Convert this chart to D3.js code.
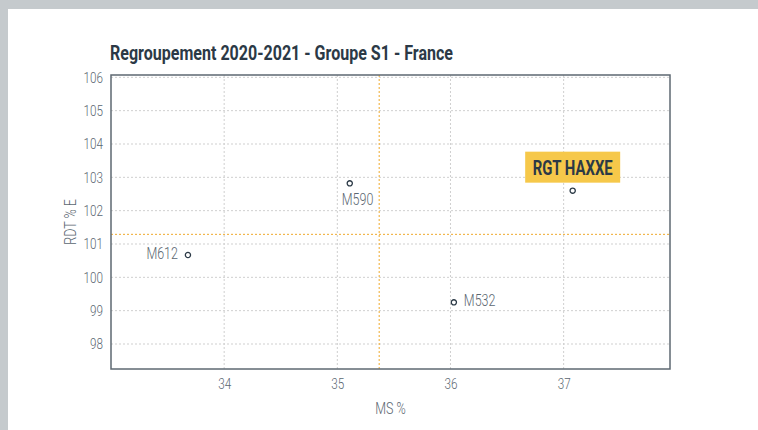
<!DOCTYPE html>
<html>
<head>
<meta charset="utf-8">
<script src="https://cdn.jsdelivr.net/npm/d3@7"></script>
<style>
  html, body { margin: 0; padding: 0; background: #c5cacd; }
  #chart { width: 758px; height: 430px; }
</style>
</head>
<body>
<div id="chart"></div>
<script>
// Scatter - Regroupement 2020-2021 - Groupe S1 - France
const names = ['M612', 'M590', 'M532', 'RGT HAXXE'];
const msValues = [33.68, 35.11, 36.03, 37.08];
const rdtValues = [100.67, 102.82, 99.25, 102.60];
const labelSides = ['left', 'below', 'right', 'above'];
const xTicks = [34, 35, 36, 37];
const yTicks = [98, 99, 100, 101, 102, 103, 104, 105, 106];
const xDomain = [33, 37.94];
const yDomain = [97.25, 106.07];
const refMs = 35.37;
const refRdt = 101.29;

const width = 758, height = 430;
const margin = { top: 75, right: 88, bottom: 61, left: 111 };
const innerW = width - margin.left - margin.right;
const innerH = height - margin.top - margin.bottom;

const textGray = '#5b6771';
const dark = '#2b3946';
const light = "Roboto, sans-serif";

// squeeze Roboto into the narrow look of the original font
function condense(sel, factor) {
    sel.each(function () {
        const w = this.getComputedTextLength();
        d3.select(this)
            .attr('textLength', w * factor)
            .attr('lengthAdjust', 'spacingAndGlyphs');
    });
}

const svg = d3.select('#chart').append('svg')
    .attr('width', width)
    .attr('height', height)
    .style('display', 'block');

// panel
svg.append('rect')
    .attr('x', 8).attr('y', 9)
    .attr('width', width - 8).attr('height', height - 9)
    .attr('fill', '#ffffff');

svg.append('text')
    .attr('x', 110)
    .attr('y', 60)
    .attr('fill', dark)
    .attr('font-family', light)
    .attr('font-weight', 700)
    .attr('font-size', '21px')
    .attr('textLength', 343)
    .attr('lengthAdjust', 'spacingAndGlyphs')
    .text('Regroupement 2020-2021 - Groupe S1 - France');

const g = svg.append('g')
    .attr('transform', `translate(${margin.left},${margin.top})`);

const x = d3.scaleLinear().domain(xDomain).range([0, innerW]);
const y = d3.scaleLinear().domain(yDomain).range([innerH, 0]);

// grid
g.append('g').selectAll('line')
    .data(xTicks)
    .join('line')
    .attr('x1', d => x(d)).attr('x2', d => x(d))
    .attr('y1', 0).attr('y2', innerH)
    .attr('stroke', '#cfcfcf')
    .attr('stroke-dasharray', '2,2');

g.append('g').selectAll('line')
    .data(yTicks.filter(d => y(d) > 2))
    .join('line')
    .attr('x1', 0).attr('x2', innerW)
    .attr('y1', d => y(d)).attr('y2', d => y(d))
    .attr('stroke', '#cfcfcf')
    .attr('stroke-dasharray', '2,2');

// reference lines
g.append('line')
    .attr('x1', x(refMs)).attr('x2', x(refMs))
    .attr('y1', 0).attr('y2', innerH)
    .attr('stroke', '#efa92c')
    .attr('stroke-dasharray', '2,2');
g.append('line')
    .attr('x1', 0).attr('x2', innerW)
    .attr('y1', y(refRdt)).attr('y2', y(refRdt))
    .attr('stroke', '#efa92c')
    .attr('stroke-dasharray', '2,2');

// axes
const xAxis = g.append('g')
    .attr('transform', `translate(0,${innerH})`)
    .call(d3.axisBottom(x).tickValues(xTicks).tickFormat(d3.format('d')).tickSize(0).tickPadding(9));
const yAxis = g.append('g')
    .call(d3.axisLeft(y).tickValues(yTicks).tickFormat(d3.format('d')).tickSize(0).tickPadding(8));

[xAxis, yAxis].forEach(a => {
    a.select('.domain').remove();
    a.selectAll('text')
        .attr('fill', textGray)
        .attr('font-family', light)
        .attr('font-weight', 300)
        .attr('font-size', '15px')
        .call(condense, 0.78);
});

// frame
g.append('rect')
    .attr('width', innerW).attr('height', innerH)
    .attr('fill', 'none')
    .attr('stroke', '#5e6872')
    .attr('stroke-width', 1.5);

svg.append('text')
    .attr('x', margin.left + innerW / 2)
    .attr('y', 414)
    .attr('text-anchor', 'middle')
    .attr('fill', textGray)
    .attr('font-family', light)
    .attr('font-weight', 300)
    .attr('font-size', '16px')
    .text('MS %')
    .call(condense, 0.78);

svg.append('text')
    .attr('transform', `translate(76,${margin.top + innerH / 2}) rotate(-90)`)
    .attr('text-anchor', 'middle')
    .attr('fill', textGray)
    .attr('font-family', light)
    .attr('font-weight', 300)
    .attr('font-size', '16px')
    .text('RDT % E')
    .call(condense, 0.78);

// points
const points = names.map((n, i) => ({ name: n, ms: msValues[i], rdt: rdtValues[i], side: labelSides[i] }));

const pg = g.selectAll('.pt')
    .data(points)
    .join('g')
    .attr('class', 'pt')
    .attr('transform', d => `translate(${x(d.ms)},${y(d.rdt)})`);

pg.append('circle')
    .attr('r', 2.6)
    .attr('fill', '#fff')
    .attr('stroke', dark)
    .attr('stroke-width', 1.3);

pg.filter(d => d.side !== 'above').append('text')
    .attr('fill', textGray)
    .attr('font-family', light)
    .attr('font-weight', 300)
    .attr('font-size', '16px')
    .attr('text-anchor', d => d.side === 'left' ? 'end' : 'start')
    .attr('x', d => d.side === 'left' ? -10 : d.side === 'right' ? 10 : -8)
    .attr('y', d => d.side === 'below' ? 22 : 4)
    .text(d => d.name)
    .call(condense, 0.78);

const hl = pg.filter(d => d.side === 'above');
hl.append('rect')
    .attr('x', -47.5).attr('y', -39)
    .attr('width', 95).attr('height', 31)
    .attr('fill', '#f6c84a');
hl.append('text')
    .attr('x', 0).attr('y', -16)
    .attr('text-anchor', 'middle')
    .attr('fill', dark)
    .attr('font-family', light)
    .attr('font-weight', 700)
    .attr('font-size', '21px')
    .attr('textLength', 80)
    .attr('lengthAdjust', 'spacingAndGlyphs')
    .text(d => d.name);
</script>
</body>
</html>
